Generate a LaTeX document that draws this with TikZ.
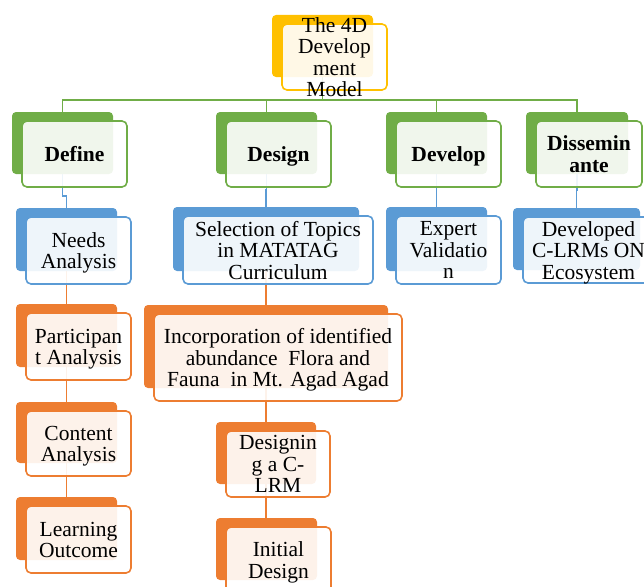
\documentclass[tikz,border=0pt]{standalone}
\usepackage{fontspec}
\setmainfont{Liberation Serif}
\pgfdeclarelayer{background}
\pgfsetlayers{background,main}

\definecolor{lvgreen}{HTML}{70AD47}
\definecolor{lvblue}{HTML}{5B9BD5}
\definecolor{lvorange}{HTML}{ED7D31}
\definecolor{lvgold}{HTML}{FFC000}

\tikzset{
  backbox/.style={anchor=north west, rectangle, rounded corners=4pt,
    fill=#1, draw=none, inner sep=0pt, outer sep=0pt},
  frontbox/.style={anchor=north west, rectangle, rounded corners=5pt,
    draw=#1, line width=1.6pt, fill=white, fill opacity=0.9,
    inner sep=0pt, outer sep=0pt},
  boxtext/.style={align=center, inner sep=0pt, yshift=-3.5pt,
    font=\fontsize{21.5}{21.5}\selectfont,
    execute at begin node=\strut, execute at end node=\strut},
  conn/.style={draw=#1, line width=1.8pt},
}

% #1 name, #2 colour, #3--#6 back plate corners (x1,y1,x2,y2), #7 text
\newcommand\smartbox[7]{%
  \pgfmathsetmacro\bwid{#5-#3}%
  \pgfmathsetmacro\bhgt{#6-#4}%
  \pgfmathsetmacro\fwid{#5-#3+4}%
  \pgfmathsetmacro\fhgt{#6-#4+4}%
  \node[backbox=#2, minimum width=\bwid pt, minimum height=\bhgt pt] (#1B) at (#3,#4) {};
  \node[frontbox=#2, minimum width=\fwid pt, minimum height=\fhgt pt] (#1F) at (#3+10,#4+9) {};
  \node[boxtext] (#1T) at (#1F.center) {#7};
}

\begin{document}
\begin{tikzpicture}[x=1pt, y=-1pt]
\useasboundingbox (0,0) rectangle (644,586);

% root
\smartbox{top}{lvgold}{272}{15}{373}{77}{The 4D\\Develop\\ment\\Model}

% phases
\smartbox{def}{lvgreen}{12}{112}{113}{174}{\bfseries Define}
\smartbox{des}{lvgreen}{216}{112}{317}{174}{\bfseries Design}
\smartbox{dev}{lvgreen}{386}{112}{487}{174}{\bfseries Develop}
\smartbox{dis}{lvgreen}{526}{112}{628}{174}{\bfseries Dissemin\\\bfseries ante}

% first steps
\smartbox{nee}{lvblue}{16}{208}{117}{271}{Needs\\Analysis}
\smartbox{sel}{lvblue}{173}{207}{359}{271}{Selection of Topics\\in MATATAG\\Curriculum}
\smartbox{exp}{lvblue}{386}{207}{487}{271}{Expert\\Validatio\\n}
\smartbox{dvd}{lvblue}{513}{208}{640}{270}{\fontsize{21.5}{25}\selectfont Developed\\C-LRMs ON\\Ecosystem}

% define column
\smartbox{par}{lvorange}{16}{304}{117}{367}{Participan\\t Analysis}
\smartbox{con}{lvorange}{16}{402}{117}{463}{Content\\Analysis}
\smartbox{lea}{lvorange}{16}{497}{117}{560}{Learning\\Outcome}

% design column
\smartbox{inc}{lvorange}{144}{305}{388}{388}{Incorporation of identified\\abundance~ Flora and\\Fauna~ in Mt. Agad Agad}
\smartbox{dsg}{lvorange}{216}{422}{316}{484}{Designin\\g a C-\\LRM}
\smartbox{ini}{lvorange}{216}{518}{317}{580}{Initial\\Design}

\begin{pgfonlayer}{background}
  % root to phases
  \foreach \c in {def,des,dev,dis}
    \draw[conn=lvgreen] (topB.south) -- ++(0,23) -| (\c B.north);
  % phases to first steps
  \draw[conn=lvblue] (defB.south) -- ++(0,22) -| (neeB.north);
  \draw[conn=lvblue] (desB.south) -- ++(0,16) -| (selB.north);
  \draw[conn=lvblue] (devB.south) -- ++(0,16) -| (expB.north);
  \draw[conn=lvblue] (disB.south) -- ++(0,16) -| (dvdB.north);
  % steps
  \draw[conn=lvorange] (neeB.south) -- (neeB.south |- parB.north);
  \draw[conn=lvorange] (parB.south) -- (parB.south |- conB.north);
  \draw[conn=lvorange] (conB.south) -- (conB.south |- leaB.north);
  \draw[conn=lvorange] (selB.south) -- (selB.south |- incB.north);
  \draw[conn=lvorange] (incB.south) -- (incB.south |- dsgB.north);
  \draw[conn=lvorange] (dsgB.south) -- (dsgB.south |- iniB.north);
\end{pgfonlayer}
\end{tikzpicture}
\end{document}
